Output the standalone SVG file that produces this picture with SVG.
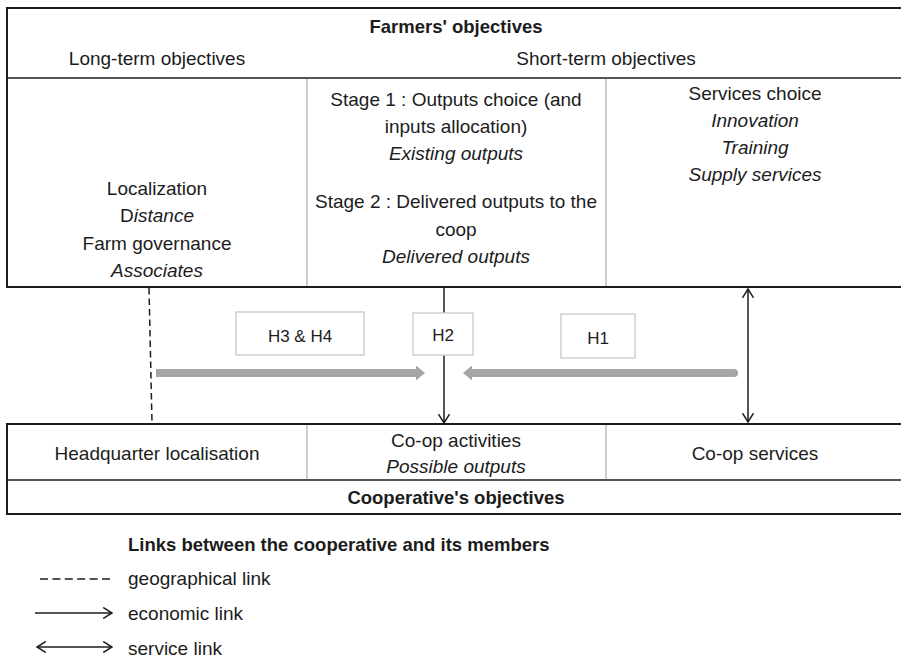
<svg xmlns="http://www.w3.org/2000/svg" width="901" height="659" viewBox="0 0 901 659">
<style>
text{font-family:"Liberation Sans",Arial,sans-serif;font-size:19px;fill:#1c1c1c;text-anchor:middle}
.b{font-weight:bold;font-size:18.5px}
.i{font-style:italic}
.h{font-size:17px}
.l{text-anchor:start}
.frame{fill:none;stroke:#1c1c1c;stroke-width:2}
.rule{stroke:#1c1c1c;stroke-width:1.5}
.div{stroke:#bdbdbd;stroke-width:1.5}
.hbox{fill:#fff;stroke:#d0d0d0;stroke-width:1.5}
.link{stroke:#1c1c1c;stroke-width:1.5;fill:none}
.dash{stroke-dasharray:6.5 4}
.gray{stroke:#a6a6a6;stroke-width:8;fill:none}
</style>
<defs>
<marker id="open" viewBox="0 0 10 12" refX="9.3" refY="6" markerWidth="10" markerHeight="12" markerUnits="userSpaceOnUse" orient="auto-start-reverse">
<path d="M0.5,0.5 L9.3,6 L0.5,11.5" fill="none" stroke="#1c1c1c" stroke-width="1.5"/>
</marker>
<marker id="tri" viewBox="0 0 9 15" refX="0" refY="7.5" markerWidth="9" markerHeight="15" markerUnits="userSpaceOnUse" orient="auto">
<path d="M0,0 L9,7.5 L0,15 Z" fill="#a6a6a6"/>
</marker>
</defs>
<rect width="901" height="659" fill="#fff"/>
<g id="connectors">
<line class="link dash" x1="149" y1="288" x2="152" y2="423"/>
<line class="link" x1="444" y1="287" x2="444" y2="423" marker-end="url(#open)"/>
<line class="link" x1="748" y1="289" x2="748" y2="422" marker-start="url(#open)" marker-end="url(#open)"/>
<line class="gray" x1="156" y1="373" x2="416" y2="373" marker-end="url(#tri)"/>
<line class="gray" x1="734" y1="373" x2="472" y2="373" stroke-linecap="round" marker-end="url(#tri)"/>
</g>
<g id="farmers-objectives">
<rect class="frame" x="7" y="8" width="900" height="279"/>
<line class="rule" x1="7" y1="78" x2="905" y2="78"/>
<line class="div" x1="307" y1="79" x2="307" y2="286"/>
<line class="div" x1="606" y1="79" x2="606" y2="286"/>
<text class="b" x="456" y="33">Farmers' objectives</text>
<text x="157" y="65">Long-term objectives</text>
<text x="606" y="65">Short-term objectives</text>
</g>
<g id="long-term">
<text x="157" y="195">Localization</text>
<text x="157" y="222">D<tspan class="i">istance</tspan></text>
<text x="157" y="250">Farm governance</text>
<text class="i" x="157" y="277">Associates</text>
</g>
<g id="outputs-choice">
<text x="456" y="106">Stage 1 : Outputs choice (and</text>
<text x="456" y="133">inputs allocation)</text>
<text class="i" x="456" y="160">Existing outputs</text>
<text x="456" y="208">Stage 2 : Delivered outputs to the</text>
<text x="456" y="236">coop</text>
<text class="i" x="456" y="263">Delivered outputs</text>
</g>
<g id="services-choice">
<text x="755" y="100">Services choice</text>
<text class="i" x="755" y="127">Innovation</text>
<text class="i" x="755" y="154">Training</text>
<text class="i" x="755" y="181">Supply services</text>
</g>
<g id="h3h4">
<rect class="hbox" x="236" y="312" width="128" height="43"/>
<text class="h" x="300" y="342">H3 &amp; H4</text>
</g>
<g id="h2">
<rect class="hbox" x="413" y="313" width="60" height="42"/>
<text class="h" x="443" y="341">H2</text>
</g>
<g id="h1">
<rect class="hbox" x="561" y="314" width="74" height="44"/>
<text class="h" x="598" y="344">H1</text>
</g>
<g id="cooperative-objectives">
<rect class="frame" x="7" y="424" width="900" height="90"/>
<line class="rule" x1="7" y1="480" x2="905" y2="480"/>
<line class="div" x1="307" y1="425" x2="307" y2="479"/>
<line class="div" x1="606" y1="425" x2="606" y2="479"/>
<text x="157" y="460">Headquarter localisation</text>
<text x="456" y="447">Co-op activities</text>
<text class="i" x="456" y="473">Possible outputs</text>
<text x="755" y="460">Co-op services</text>
<text class="b" x="456" y="504">Cooperative's objectives</text>
</g>
<g id="legend">
<text class="b l" x="128" y="551">Links between the cooperative and its members</text>
<line class="link" x1="40" y1="579" x2="110" y2="579" stroke-dasharray="8 4.4"/>
<text class="l" x="128" y="585">geographical link</text>
<line class="link" x1="35" y1="613" x2="112" y2="613" marker-end="url(#open)"/>
<text class="l" x="128" y="620">economic link</text>
<line class="link" x1="37" y1="647" x2="112" y2="647" marker-start="url(#open)" marker-end="url(#open)"/>
<text class="l" x="128" y="655">service link</text>
</g>
</svg>
